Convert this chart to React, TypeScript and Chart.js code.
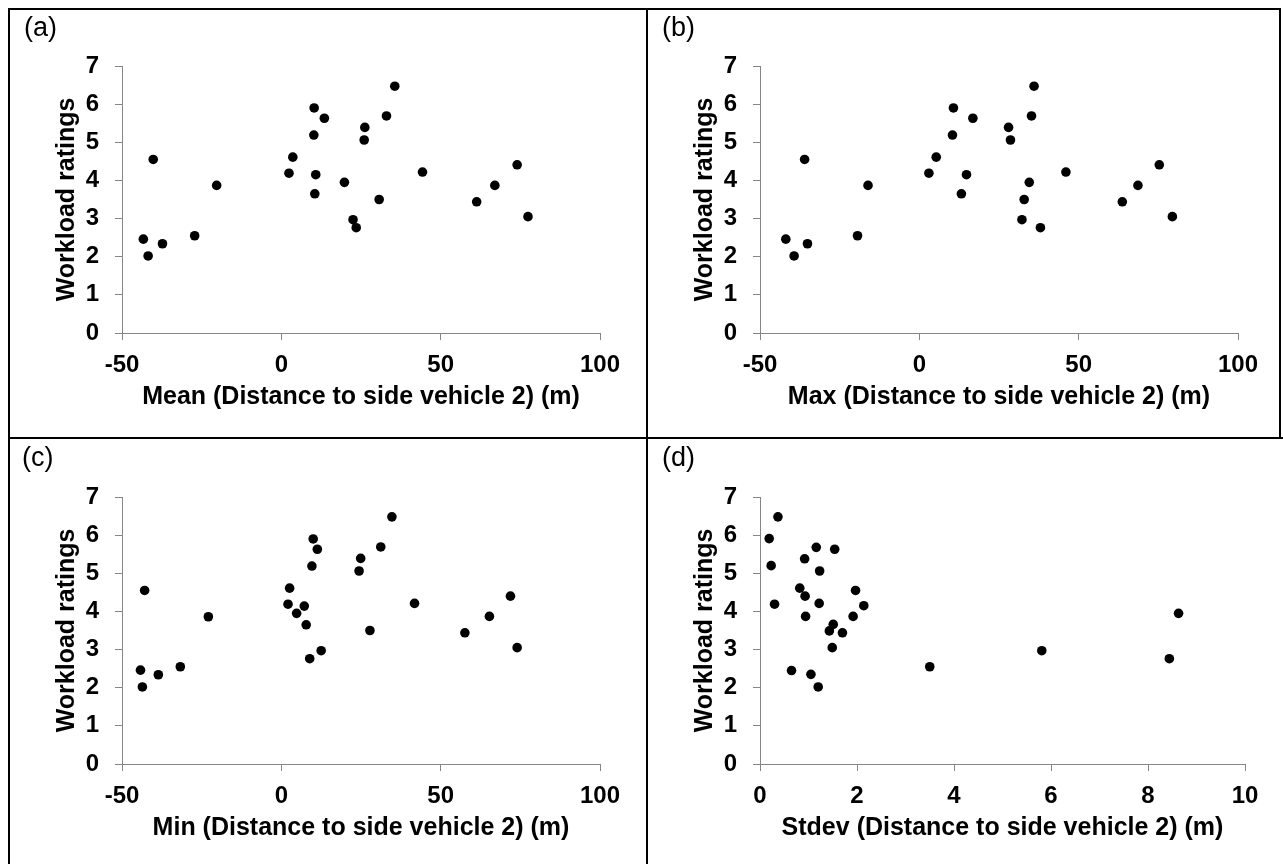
import React, { useEffect, useRef } from "react";
import { Chart, registerables } from "chart.js";

Chart.register(...registerables);

const FONT = "'Liberation Sans', Arial, Helvetica, sans-serif";

// Tick values
const yTickValues = [0, 1, 2, 3, 4, 5, 6, 7];
const distTickValues = [-50, 0, 50, 100];
const stdevTickValues = [0, 2, 4, 6, 8, 10];

const yAxisTitle = "Workload ratings";

// (a) Mean
const meanX = [-43.3, -41.8, -40.2, -37.3, -27.2, -20.3, 2.4, 3.6, 10.2, 10.3, 10.5, 10.8, 13.5, 19.8, 22.5, 23.5, 26.0, 26.2, 30.7, 33.0, 35.6, 44.3, 61.3, 67.0, 74.0, 77.4];
const meanY = [2.46, 2.02, 4.55, 2.34, 2.55, 3.87, 4.19, 4.61, 5.19, 5.9, 3.65, 4.15, 5.63, 3.95, 2.97, 2.76, 5.06, 5.39, 3.5, 5.69, 6.47, 4.22, 3.44, 3.87, 4.41, 3.05];

// (b) Max
const maxX = [-41.9, -39.3, -36.0, -35.1, -19.4, -16.1, 3.0, 5.3, 10.4, 10.7, 13.2, 14.8, 16.8, 28.0, 28.6, 32.2, 32.9, 34.5, 35.2, 36.0, 38.0, 46.0, 63.7, 68.6, 75.3, 79.4];
const maxY = [2.46, 2.02, 4.55, 2.34, 2.55, 3.87, 4.19, 4.61, 5.19, 5.9, 3.65, 4.15, 5.63, 5.39, 5.06, 2.97, 3.5, 3.95, 5.69, 6.47, 2.76, 4.22, 3.44, 3.87, 4.41, 3.05];

// (c) Min
const minX = [-44.2, -43.6, -42.9, -38.6, -31.7, -22.9, 2.1, 2.6, 4.8, 7.2, 7.8, 8.9, 9.6, 10.0, 11.3, 12.5, 24.4, 24.9, 27.8, 31.2, 34.7, 41.8, 57.6, 65.3, 71.9, 74.0];
const minY = [2.46, 2.02, 4.55, 2.34, 2.55, 3.86, 4.19, 4.61, 3.95, 4.14, 3.65, 2.76, 5.19, 5.9, 5.63, 2.97, 5.06, 5.39, 3.5, 5.69, 6.48, 4.21, 3.44, 3.87, 4.4, 3.05];

// (d) Stdev
const stdevX = [0.19, 0.23, 0.3, 0.37, 0.65, 0.82, 0.92, 0.93, 0.94, 1.05, 1.16, 1.2, 1.22, 1.23, 1.43, 1.49, 1.51, 1.54, 1.7, 1.92, 1.97, 2.14, 3.5, 5.81, 8.44, 8.63];
const stdevY = [5.91, 5.2, 4.19, 6.48, 2.45, 4.61, 5.38, 4.4, 3.87, 2.35, 5.68, 2.02, 4.21, 5.06, 3.49, 3.05, 3.66, 5.63, 3.44, 3.87, 4.55, 4.15, 2.55, 2.97, 2.76, 3.95];

const AXIS_GRAY = "#868686";

type PanelProps = {
  label: string;
  xs: number[];
  ys: number[];
  xTitle: string;
  xTicks: number[];
  left: number;
  top: number;
  width: number;
  height: number;
  plotRight: number;
  labelLeft: number;
  labelTop: number;
};

function Panel(p: PanelProps) {
  const ref = useRef<HTMLCanvasElement>(null);
  useEffect(() => {
    if (!ref.current) return;
    const tickFont = { family: FONT, size: 24, weight: "bold" as const };
    const titleFont = { family: FONT, size: 25, weight: "bold" as const };
    const chart = new Chart(ref.current, {
      type: "scatter",
      data: {
        datasets: [
          {
            data: p.xs.map((x, i) => ({ x, y: p.ys[i] })),
            backgroundColor: "#000",
            borderColor: "#000",
            borderWidth: 0,
            pointRadius: 4.8,
            pointHoverRadius: 4.8,
          },
        ],
      },
      options: {
        responsive: false,
        animation: false,
        events: [],
        layout: {
          padding: { left: 0, top: 56, right: p.width - p.plotRight, bottom: p.height - 323 - 80 },
        },
        plugins: {
          legend: { display: false },
          tooltip: { enabled: false },
          title: { display: false },
        },
        scales: {
          x: {
            type: "linear",
            min: p.xTicks[0],
            max: p.xTicks[p.xTicks.length - 1],
            afterBuildTicks: (s: any) => {
              s.ticks = p.xTicks.map((v) => ({ value: v }));
            },
            afterFit: (s: any) => {
              s.height = 80;
              s.paddingLeft = 0;
              s.paddingRight = 0;
            },
            ticks: { color: "#000", font: tickFont, padding: 11, maxRotation: 0, autoSkip: false },
            grid: { drawOnChartArea: false, drawTicks: true, tickLength: 7, color: AXIS_GRAY, lineWidth: 1 },
            border: { display: true, color: AXIS_GRAY, width: 1 },
            title: { display: true, text: p.xTitle, color: "#000", font: titleFont, padding: { top: 0, bottom: 1 } },
          },
          y: {
            type: "linear",
            min: yTickValues[0],
            max: yTickValues[yTickValues.length - 1],
            afterBuildTicks: (s: any) => {
              s.ticks = yTickValues.map((v) => ({ value: v }));
            },
            afterFit: (s: any) => {
              s.width = 112;
              s.paddingTop = 0;
              s.paddingBottom = 0;
            },
            ticks: { color: "#000", font: tickFont, padding: 16, autoSkip: false },
            grid: { drawOnChartArea: false, drawTicks: true, tickLength: 7, color: AXIS_GRAY, lineWidth: 1 },
            border: { display: true, color: AXIS_GRAY, width: 1 },
            title: { display: true, text: yAxisTitle, color: "#000", font: titleFont, padding: { top: 42, bottom: 0 } },
          },
        },
      },
    });
    return () => chart.destroy();
  }, []);
  return (
    <>
      <canvas
        ref={ref}
        width={p.width}
        height={p.height}
        style={{ position: "fixed", left: p.left, top: p.top, width: p.width, height: p.height, display: "block" }}
      />
      <div
        style={{
          position: "fixed",
          left: p.labelLeft,
          top: p.labelTop,
          fontFamily: FONT,
          fontSize: 27,
          lineHeight: "32px",
          color: "#000",
          whiteSpace: "nowrap",
        }}
      >
        {p.label}
      </div>
    </>
  );
}

const line = (left: number, top: number, width: number, height: number) => (
  <div style={{ position: "fixed", left, top, width, height, background: "#000" }} />
);

export default function App() {
  return (
    <div style={{ position: "fixed", left: 0, top: 0, width: 1283, height: 864, overflow: "hidden", background: "#fff" }}>
      <Panel label="(a)" xs={meanX} ys={meanY} xTitle="Mean (Distance to side vehicle 2) (m)" xTicks={distTickValues}
        left={10} top={10} width={636} height={427} plotRight={590} labelLeft={24} labelTop={11} />
      <Panel label="(b)" xs={maxX} ys={maxY} xTitle="Max (Distance to side vehicle 2) (m)" xTicks={distTickValues}
        left={648} top={10} width={631} height={427} plotRight={590} labelLeft={662} labelTop={11} />
      <Panel label="(c)" xs={minX} ys={minY} xTitle="Min (Distance to side vehicle 2) (m)" xTicks={distTickValues}
        left={10} top={441} width={636} height={427} plotRight={590} labelLeft={22} labelTop={441} />
      <Panel label="(d)" xs={stdevX} ys={stdevY} xTitle="Stdev (Distance to side vehicle 2) (m)" xTicks={stdevTickValues}
        left={648} top={441} width={635} height={427} plotRight={597} labelLeft={662} labelTop={441} />
      {line(8, 8, 1273, 2)}
      {line(8, 8, 2, 856)}
      {line(1279, 8, 2, 431)}
      {line(646, 8, 2, 856)}
      {line(8, 437, 1275, 2)}
    </div>
  );
}
